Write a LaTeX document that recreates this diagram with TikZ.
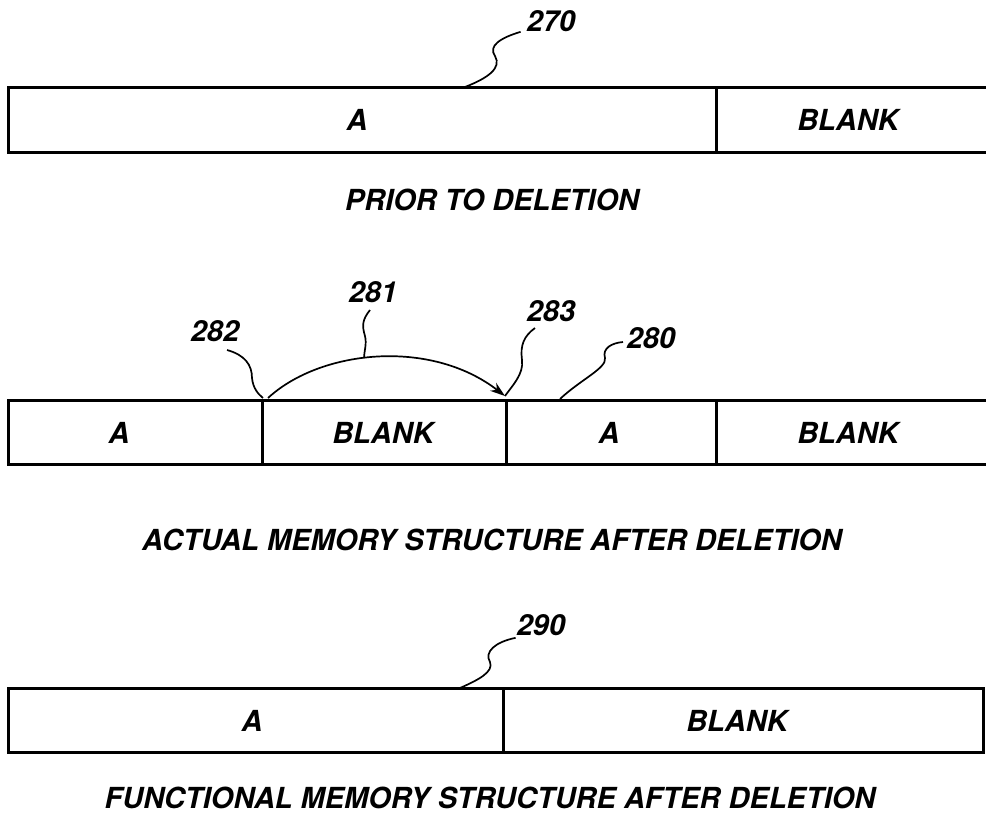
\documentclass[tikz,border=0pt]{standalone}
\usepackage{fontspec}
\setmainfont{TeX Gyre Heros}
\usetikzlibrary{arrows.meta}
\tikzset{
  lbl/.style={font=\fontsize{29}{34}\selectfont\bfseries\itshape, inner sep=0pt},
  bar/.style={line width=3pt},
  lead/.style={line width=1.7pt},
}
\begin{document}
\begin{tikzpicture}[x=1pt, y=-1pt]
\path[use as bounding box] (0,0) rectangle (986,823);
\begin{scope}
\clip (0,0) rectangle (986,823);
% prior to deletion
\draw[bar] (8,87) rectangle (1000,152);
\draw[bar] (716,87) -- (716,152);
% actual memory structure
\draw[bar] (8,400) rectangle (1000,464);
\draw[bar] (262,400) -- (262,464);
\draw[bar] (506,400) -- (506,464);
\draw[bar] (716,400) -- (716,464);
% functional memory structure
\draw[bar] (8,688) rectangle (983,752);
\draw[bar] (503,688) -- (503,752);
\end{scope}

\node[lbl] (a1) at (357,120) {A};
\node[lbl] (b1) at (848,120) {BLANK};
\node[lbl] (a2) at (119,433) {A};
\node[lbl] (b2) at (383,433) {BLANK};
\node[lbl] (a3) at (609,433) {A};
\node[lbl] (b3) at (848,433) {BLANK};
\node[lbl] (a4) at (252,721) {A};
\node[lbl] (b4) at (737,721) {BLANK};

\node[lbl] (c1) at (492,200) {PRIOR TO DELETION};
\node[lbl] (c2) at (492,540) {ACTUAL MEMORY STRUCTURE AFTER DELETION};
\node[lbl] (c3) at (490,798) {FUNCTIONAL MEMORY STRUCTURE AFTER DELETION};

\node[lbl] (l270) at (551,21) {270};
\node[lbl] (l290) at (541,625) {290};
\node[lbl] (l282) at (215,331) {282};
\node[lbl] (l281) at (373,292) {281};
\node[lbl] (l283) at (551,311) {283};
\node[lbl] (l280) at (651,338) {280};

\coordinate (t270) at (465,87);
\coordinate (t290) at (460,688);
\coordinate (s282) at (263,398);
\coordinate (s283) at (505,396);
\coordinate (t281) at (364,358);
\coordinate (t280) at (560,399);

% leaders
\draw[lead] ([xshift=-6pt]l270.south west) .. controls (500,38) and (488,46) .. (495,56)
  .. controls (502,68) and (488,78) .. (t270);
\draw[lead] ([xshift=-1pt,yshift=-2pt]l290.south west) .. controls (495,642) and (484,652) .. (490,662)
  .. controls (494,672) and (478,680) .. (t290);
\draw[lead] (227,350) .. controls (245,355) and (252,365) .. (252,378)
  .. controls (253,388) and (258,394) .. (s282);
\draw[lead] (370,310) .. controls (362,320) and (362,326) .. (365,336)
  .. controls (367,344) and (364,352) .. (t281);
\draw[lead] (535,328) .. controls (524,336) and (520,345) .. (522,360)
  .. controls (524,374) and (512,386) .. (s283);
\draw[lead] (623,342) .. controls (612,343) and (602,348) .. (605,358)
  .. controls (607,368) and (580,380) .. (t280);

% move arrow
\draw[lead, -{Stealth[length=15pt, width=10pt]}] ([xshift=5pt]s282) .. controls (320,350) and (430,338) .. (s283);
\end{tikzpicture}
\end{document}
